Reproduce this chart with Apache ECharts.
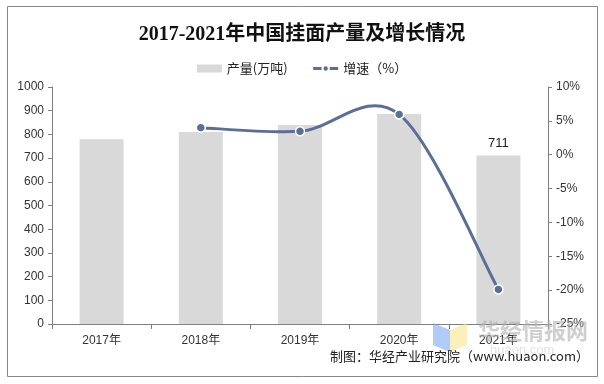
<!DOCTYPE html>
<html><head><meta charset="utf-8">
<script src="https://cdn.jsdelivr.net/npm/echarts@6/dist/echarts.min.js"></script>
<style>html,body{margin:0;padding:0;background:#fff}#c{width:604px;height:384px}</style>
</head><body><div id="c"></div>
<script>
var categories = ['2017年','2018年','2019年','2020年','2021年'];
var production = [780, 810, 840, 886, 711];
var growth = [null, 4.0, 3.45, 5.95, -19.9];
var leftTicks = [0, 1000, 100];
var rightTicks = [-25, 10, 5];

var lineColor = '#5b6e96';
var chart = echarts.init(document.getElementById('c'), null, {renderer:'canvas'});
var axisColor = '#7f7f7f';
var textColor = '#333';

// Excel-like (Catmull-Rom) smooth curve through the growth points, positioned via the axes
function renderCurve(params, api) {
  var firstValid = growth.findIndex(function(v){ return v != null; });
  if (params.dataIndex !== firstValid) return null;
  var pts = [];
  for (var i = 0; i < growth.length; i++) {
    if (growth[i] != null) pts.push(api.coord([i, growth[i]]));
  }
  var d = 'M' + pts[0][0] + ' ' + pts[0][1];
  for (var k = 0; k < pts.length - 1; k++) {
    var p0 = pts[Math.max(k - 1, 0)], p1 = pts[k], p2 = pts[k + 1], p3 = pts[Math.min(k + 2, pts.length - 1)];
    var c1x = p1[0] + (p2[0] - p0[0]) / 6, c1y = p1[1] + (p2[1] - p0[1]) / 6;
    var c2x = p2[0] - (p3[0] - p1[0]) / 6, c2y = p2[1] - (p3[1] - p1[1]) / 6;
    d += ' C' + c1x + ' ' + c1y + ' ' + c2x + ' ' + c2y + ' ' + p2[0] + ' ' + p2[1];
  }
  return {type: 'path', shape: {pathData: d}, style: {fill: 'none', stroke: lineColor, lineWidth: 3}};
}

chart.setOption({
  animation: false,
  backgroundColor: '#fff',
  title: {
    text: '2017-2021年中国挂面产量及增长情况',
    left: 'center', top: 20,
    textStyle: {fontFamily: 'Liberation Serif, Noto Sans CJK SC', fontWeight: 'bold', fontSize: 20, color: '#111'}
  },
  legend: {
    top: 57, left: 'center', itemGap: 24, itemWidth: 25, itemHeight: 8,
    textStyle: {fontFamily: 'Noto Sans CJK SC', fontSize: 13, color: '#222'},
    data: [
      {name: '产量(万吨)', icon: 'rect'},
      {name: '增速（%）', lineStyle: {opacity: 1, color: lineColor, width: 3}}
    ]
  },
  grid: {left: 52, right: 56, top: 87, bottom: 60, containLabel: false},
  xAxis: {
    type: 'category', data: categories,
    axisLine: {lineStyle: {color: axisColor}},
    axisTick: {show: true, alignWithLabel: false, length: 5, lineStyle: {color: axisColor}},
    axisLabel: {color: textColor, fontFamily: 'Liberation Sans, Noto Sans CJK SC', fontSize: 12, margin: 11}
  },
  yAxis: [
    {type: 'value', min: leftTicks[0], max: leftTicks[1], interval: leftTicks[2],
     axisLine: {show: true, lineStyle: {color: axisColor}},
     axisTick: {show: true, length: 4, lineStyle: {color: axisColor}},
     splitLine: {show: false},
     axisLabel: {color: textColor, fontFamily: 'Liberation Sans', fontSize: 12, margin: 8,
       formatter: function(v){ return String(v); }}},
    {type: 'value', min: rightTicks[0], max: rightTicks[1], interval: rightTicks[2],
     axisLine: {show: true, lineStyle: {color: axisColor}},
     axisTick: {show: true, length: 4, lineStyle: {color: axisColor}},
     splitLine: {show: false},
     axisLabel: {color: textColor, fontFamily: 'Liberation Sans', fontSize: 12, margin: 8, formatter: '{value}%'}}
  ],
  series: [
    {name: '产量(万吨)', type: 'bar', data: production, barWidth: 44, z: 2,
     itemStyle: {color: '#d9d9d9'},
     label: {show: true, position: 'top', distance: 6, color: '#222', fontFamily: 'Liberation Sans', fontSize: 13,
       formatter: function(p){ return p.dataIndex === 4 ? p.value : ''; }}},
    {name: '增速曲线', type: 'custom', yAxisIndex: 1, renderItem: renderCurve, z: 5, clip: false,
     data: growth.map(function(v, i){ return [i, v == null ? '-' : v]; }), silent: true},
    {name: '增速（%）', type: 'line', yAxisIndex: 1, data: growth, z: 6,
     symbol: 'circle', symbolSize: 9,
     lineStyle: {color: lineColor, width: 3, opacity: 0},
     itemStyle: {color: lineColor, borderColor: '#fff', borderWidth: 1.5}}
  ],
  graphic: [
    {type: 'rect', shape: {x: 7.5, y: 6.5, width: 590, height: 370}, style: {fill: 'none', stroke: '#888', lineWidth: 1}, z: 100},
    {type: 'polygon', shape: {points: [[433,323],[450,330],[450,352],[433,345]]}, style: {fill: 'rgba(120,170,240,0.6)'}, z: 40},
    {type: 'polygon', shape: {points: [[450,330],[467,323],[467,345],[450,352]]}, style: {fill: 'rgba(250,230,140,0.6)'}, z: 40},
    {type: 'text', left: 478, top: 320, style: {text: '华经情报网', fill: 'rgba(175,175,175,0.6)', font: 'bold 22px "Noto Sans CJK SC"'}, z: 50},
    {type: 'text', left: 490, top: 344, style: {text: 'huaon.com', fill: 'rgba(200,200,200,0.5)', font: '13px "Liberation Sans"'}, z: 50},
    {type: 'text', right: 15, top: 350, style: {text: '制图：华经产业研究院（www.huaon.com）', fill: '#222', font: '13px "Noto Sans CJK SC"'}, z: 101}
  ]
});
</script></body></html>
